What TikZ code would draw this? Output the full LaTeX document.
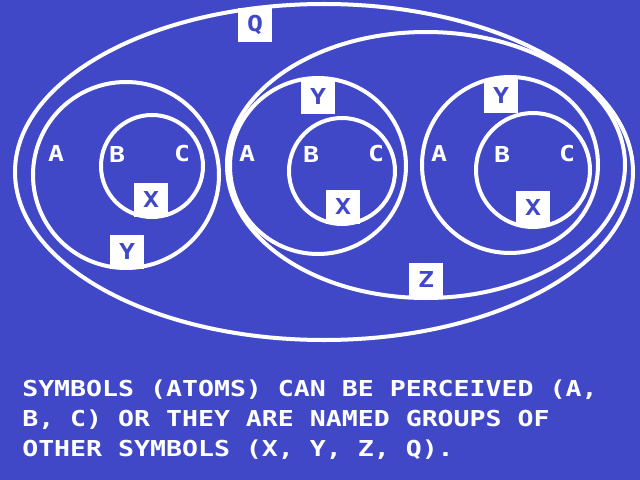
\documentclass[tikz,border=0pt]{standalone}
\usepackage{fontspec}
\newfontfamily\retrofont[FakeStretch=1.21]{DejaVu Sans Mono}
\usepackage{tikz}
\definecolor{ScreenBlue}{RGB}{64,72,200}
\newcommand{\screenfont}{\retrofont\bfseries\fontsize{15.6pt}{19pt}\selectfont}
\tikzset{
  ring/.style={draw=white,line width=2.85pt},
  atom/.style={text=white,font=\screenfont,inner sep=0pt},
  tag/.style={fill=white,text=ScreenBlue,font=\screenfont,inner sep=0pt,
    minimum width=23.5pt,minimum height=24pt},
  caption/.style={anchor=base west,text=white,font=\screenfont,inner sep=0pt}
}

\begin{document}
\begin{tikzpicture}[x=0.025cm,y=-0.025cm]
      \fill[ScreenBlue] (0,0) rectangle (640,480);
      % Q and Z
      \draw[ring] (324,172) ellipse [x radius=309,y radius=168];
      \draw[ring] (426,165) ellipse [x radius=199,y radius=133];
      % Y groups
      \draw[ring] (126,175) circle [radius=93];
      \draw[ring] (318,166) circle [radius=88];
      \draw[ring] (510,165) circle [radius=88];
      % X groups
      \draw[ring] (152,166) circle [radius=51];
      \draw[ring] (342,171) circle [radius=53];
      \draw[ring] (533,170) circle [radius=57];
      \foreach \n/\xa/\xb/\xc in {1/56/117/182,2/247/311/376,3/439/502/567}{
        \node[atom] (a\n) at (\xa,154) {A};
        \node[atom] (b\n) at (\xb,154) {B};
        \node[atom] (c\n) at (\xc,154) {C};
      }
      \node[tag] (x1) at (151,200) {X};
      \node[tag] (x2) at (343,207) {X};
      \node[tag] (x3) at (533,208) {X};
      \node[tag] (y1) at (127,252) {Y};
      \node[tag] (y2) at (318,97) {Y};
      \node[tag] (y3) at (501,96) {Y};
      \node[tag] (z) at (426,280) {Z};
      \node[tag] (q) at (255,25) {Q};
      % caption
      \node[caption] (line1) at (22,396) {SYMBOLS (ATOMS) CAN BE PERCEIVED (A,};
      \node[caption] (line2) at (22,426) {B, C) OR THEY ARE NAMED GROUPS OF};
      \node[caption] (line3) at (22,456) {OTHER SYMBOLS (X, Y, Z, Q).};
    \end{tikzpicture}
\end{document}
